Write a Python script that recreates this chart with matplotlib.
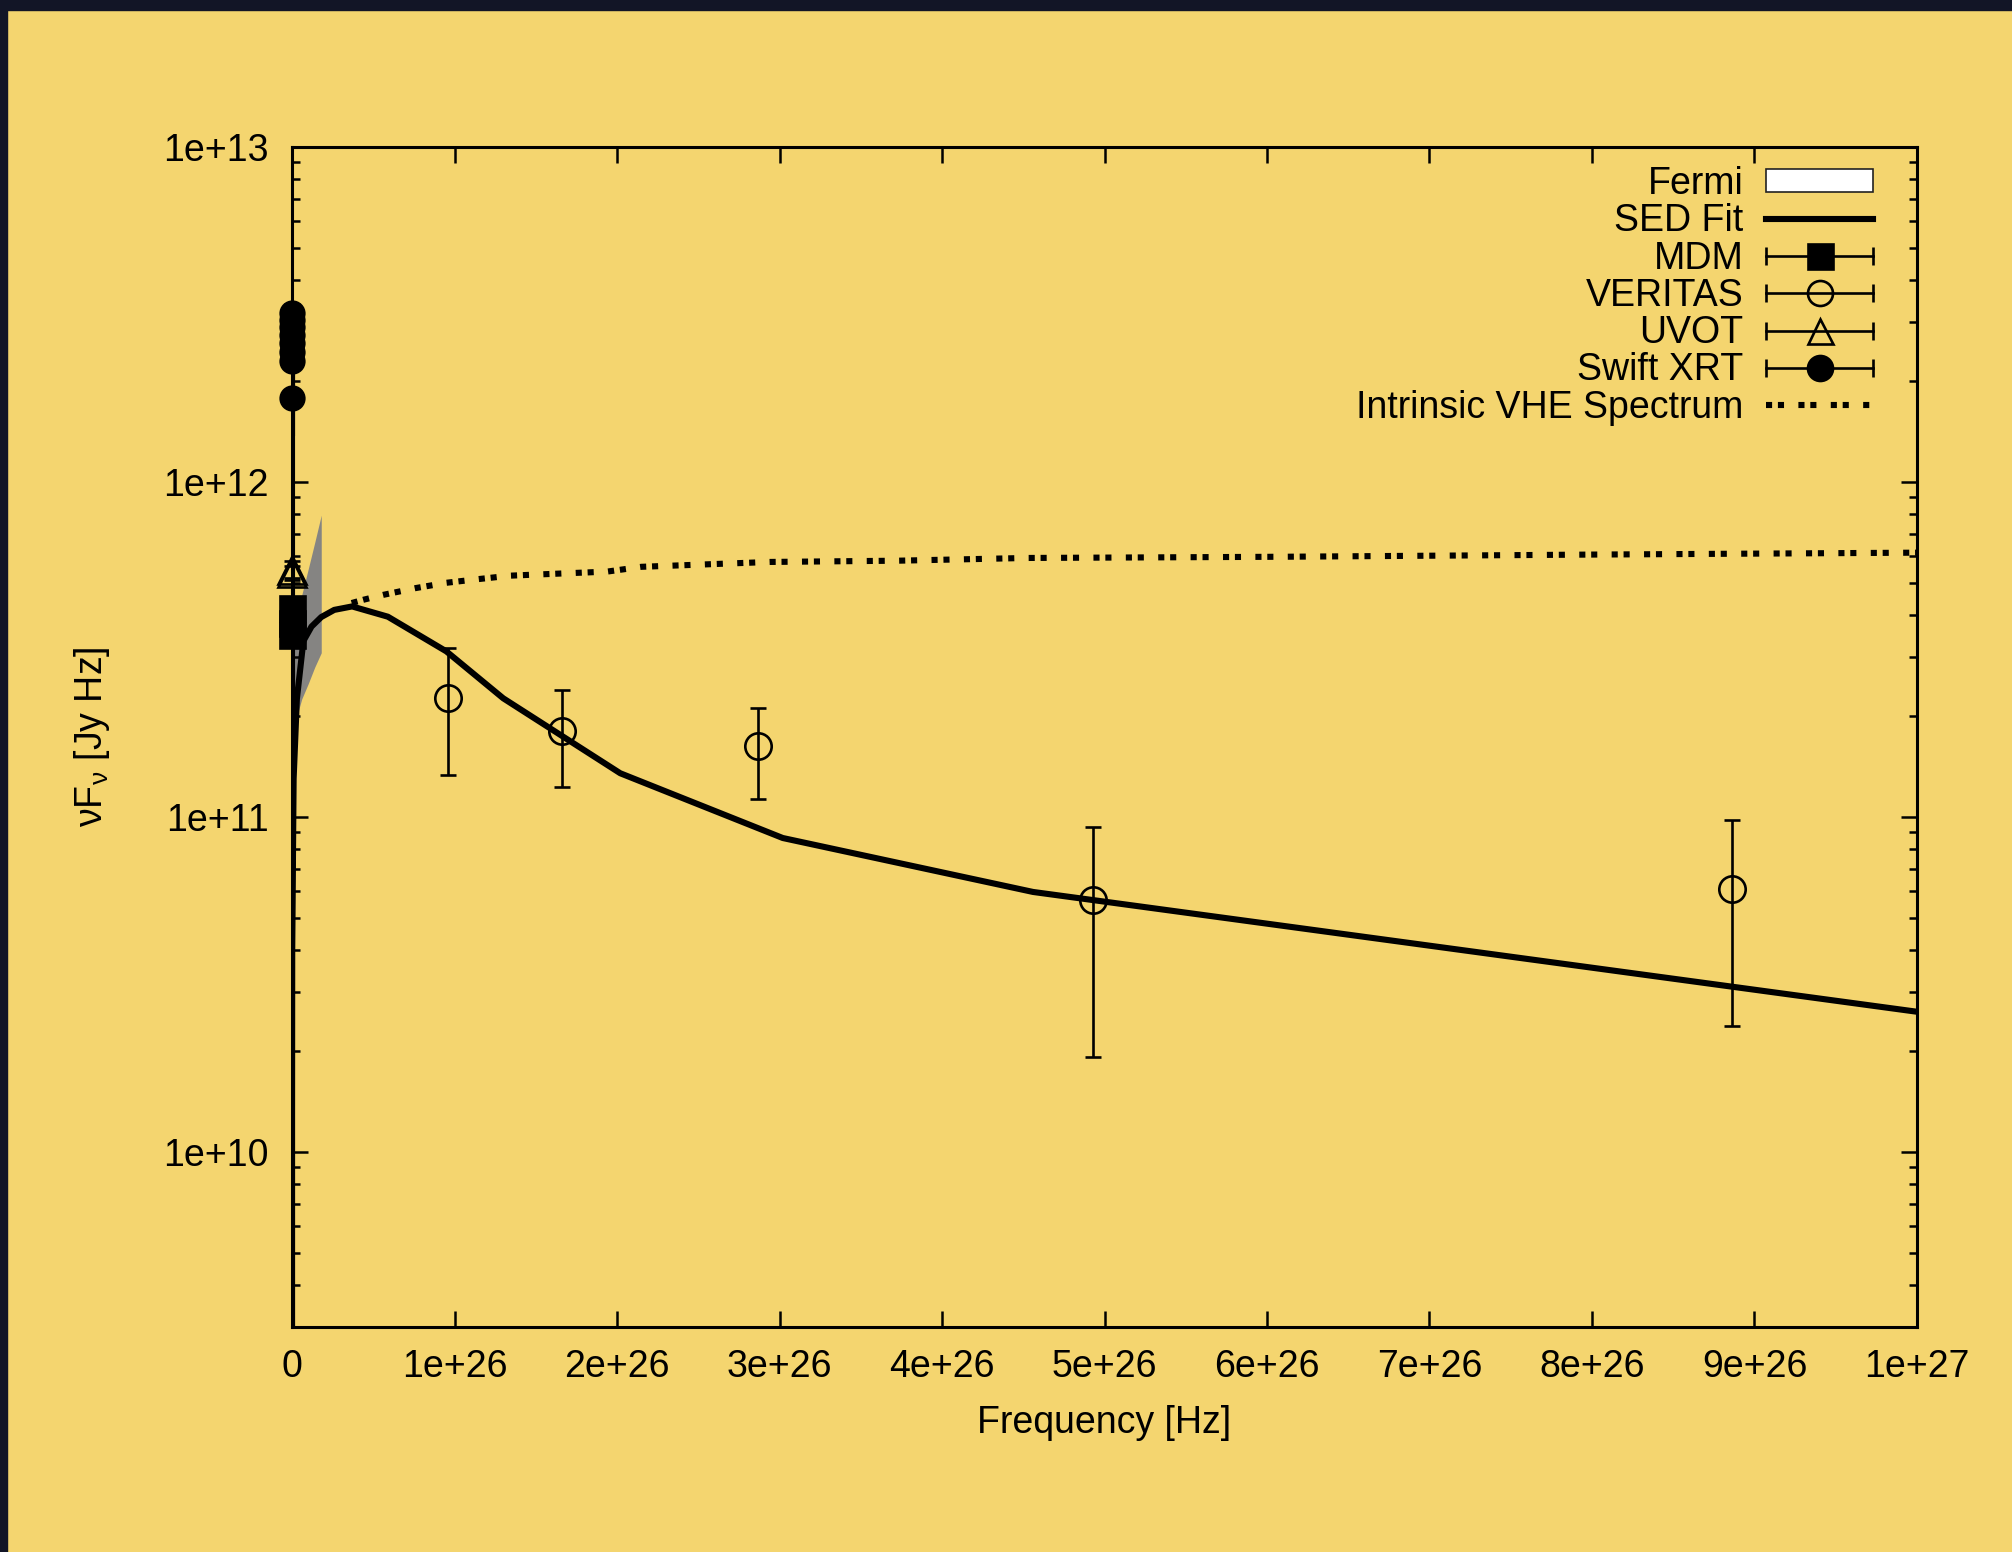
import numpy as np
import matplotlib
matplotlib.use("Agg")
import matplotlib.pyplot as plt
from matplotlib.lines import Line2D
from matplotlib.patches import Patch, Rectangle
from matplotlib.legend_handler import HandlerBase
from matplotlib.container import ErrorbarContainer
from matplotlib.ticker import LogLocator, NullFormatter

plt.rcParams['font.family'] = ['Liberation Sans', 'DejaVu Sans']
plt.rcParams['mathtext.fontset'] = 'custom'
plt.rcParams['mathtext.rm'] = 'Liberation Sans'
plt.rcParams['mathtext.it'] = 'Liberation Sans'
plt.rcParams['mathtext.bf'] = 'Liberation Sans:bold'

# ---- data ----
sed_freq = [1e14, 1e15, 1e16, 1e17, 1e18, 1e19, 1e20, 1e21, 1e22, 1e23, 1e24,
            3e24, 7e24, 1.2e25, 1.8e25, 2.6e25, 3.7e25, 5.9e25, 9.5e25,
            1.3e26, 2.02e26, 3.02e26, 4.56e26, 1e27]
sed_flux = [1.4e12, 2.6e12, 3.0e12, 2.3e12, 1.2e12, 2.5e11, 3.0e10, 2.0e9, 1.3e10, 4.0e10, 1.3e11,
            2.25e11, 3.35e11, 3.7e11, 3.95e11, 4.15e11, 4.25e11, 3.96e11, 3.12e11,
            2.26e11, 1.35e11, 8.65e10, 5.97e10, 2.62e10]

vhe_freq = [3.67e25, 4.4e25, 5.6e25, 7.6e25, 9.5e25, 1.15e26, 1.34e26, 1.54e26,
            1.94e26, 2.15e26, 2.94e26, 3.73e26, 4.52e26, 6.1e26, 8.0e26, 1e27]
vhe_flux = [4.35e11, 4.45e11, 4.6e11, 4.82e11, 5.0e11, 5.13e11, 5.25e11, 5.3e11,
            5.4e11, 5.58e11, 5.77e11, 5.82e11, 5.93e11, 5.98e11, 6.07e11, 6.15e11]

fermi_freq = [2.4e22, 1e24, 3e24, 6e24, 1e25, 1.4e25, 1.8e25]
fermi_lo = [1.5e11, 1.8e11, 2.0e11, 2.25e11, 2.5e11, 2.8e11, 3.09e11]
fermi_hi = [2.6e11, 3.3e11, 3.9e11, 4.6e11, 5.5e11, 6.6e11, 7.96e11]

ver_freq = [9.62e25, 1.66e26, 2.87e26, 4.93e26, 8.86e26]
ver_flux = [2.27e11, 1.81e11, 1.63e11, 5.65e10, 6.10e10]
ver_lo = [1.33e11, 1.23e11, 1.13e11, 1.92e10, 2.37e10]
ver_hi = [3.20e11, 2.39e11, 2.12e11, 9.31e10, 9.8e10]

mdm_freq = [4.6e14, 5.5e14, 6.8e14]
mdm_flux = [4.2e11, 3.8e11, 3.5e11]
mdm_lo = [4.0e11, 3.63e11, 3.35e11]
mdm_hi = [4.4e11, 3.97e11, 3.65e11]

uvot_freq = [1.15e15, 1.5e15]
uvot_flux = [5.45e11, 5.35e11]
uvot_lo = [5.15e11, 5.1e11]
uvot_hi = [5.8e11, 5.6e11]

xrt_freq = [2.4e17, 3.0e17, 3.9e17, 5.0e17, 6.5e17, 8.5e17, 1.1e18, 1.5e18]
xrt_flux = [3.2e12, 3.05e12, 2.9e12, 2.75e12, 2.6e12, 2.45e12, 2.3e12, 1.78e12]
xrt_lo = [3.0e12, 2.88e12, 2.75e12, 2.6e12, 2.47e12, 2.33e12, 2.17e12, 1.68e12]
xrt_hi = [3.4e12, 3.22e12, 3.05e12, 2.9e12, 2.73e12, 2.57e12, 2.43e12, 1.88e12]

xtick_vals = [0, 1e26, 2e26, 3e26, 4e26, 5e26, 6e26, 7e26, 8e26, 9e26, 1e27]
xtick_labels = ['0', '1e+26', '2e+26', '3e+26', '4e+26', '5e+26', '6e+26',
                '7e+26', '8e+26', '9e+26', '1e+27']
ytick_vals = [1e10, 1e11, 1e12, 1e13]
ytick_labels = ['1e+10', '1e+11', '1e+12', '1e+13']

BG = '#F4D56F'
FS = 27


class HandlerGnuErr(HandlerBase):
    """gnuplot-like key entry: horizontal bar with end caps, marker in the middle"""
    def create_artists(self, legend, orig_handle, xdescent, ydescent, width,
                       height, fontsize, trans):
        src = orig_handle.lines[0]
        y = (height - ydescent) / 2.
        x0, x1 = -xdescent, width - xdescent
        bar = Line2D([x0, x1], [y, y], color='black', lw=1.9)
        caps = Line2D([x0, x1], [y, y], ls='none', marker='|', markersize=13,
                      mew=1.9, color='black')
        mk = Line2D([(x0 + x1) / 2.], [y], ls='none', marker=src.get_marker(),
                    markersize=18,
                    mfc=src.get_markerfacecolor(), mec='black',
                    mew=src.get_markeredgewidth())
        for a in (bar, caps, mk):
            a.set_transform(trans)
        return [bar, caps, mk]


def errbar(ax, x, y, lo, hi, marker, filled, ms, label):
    y = np.array(y)
    yerr = [y - np.array(lo), np.array(hi) - y]
    c = ax.errorbar(x, y, yerr=yerr, fmt=marker, ms=ms,
                    mfc='black' if filled else 'none', mec='black', mew=1.9,
                    ecolor='black', elinewidth=1.9, capsize=6, capthick=1.9,
                    label=label, zorder=5, clip_on=False)
    return c


fig = plt.figure(figsize=(20.12, 15.52), dpi=100)
fig.patch.set_facecolor(BG)
fig.add_artist(Rectangle((0, 1 - 10 / 1552), 1, 10 / 1552, transform=fig.transFigure,
                         color='#121526', zorder=0))
fig.add_artist(Rectangle((0, 0), 7 / 2012, 1, transform=fig.transFigure,
                         color='#121526', zorder=0))

ax = fig.add_axes([292 / 2012, 225 / 1552, 1625 / 2012, 1180 / 1552])
ax.set_facecolor('none')

ax.fill_between(fermi_freq, fermi_lo, fermi_hi, color='#858482', lw=0, zorder=1)
fermi_handle = Patch(facecolor='white', edgecolor='#222222', linewidth=1.2)

sed_line, = ax.plot(sed_freq, sed_flux, color='black', lw=4.4, zorder=3,
                    solid_joinstyle='round', label='SED Fit')
vhe_line, = ax.plot(vhe_freq, vhe_flux, color='black', lw=4.4, zorder=3,
                    dash_capstyle='butt', label='Intrinsic VHE Spectrum')
vhe_line.set_dashes([1, 0.95, 1, 2.35])

mdm = errbar(ax, mdm_freq, mdm_flux, mdm_lo, mdm_hi, 's', True, 18, 'MDM')
ver = errbar(ax, ver_freq, ver_flux, ver_lo, ver_hi, 'o', False, 19, 'VERITAS')
uvot = errbar(ax, uvot_freq, uvot_flux, uvot_lo, uvot_hi, '^', False, 20, 'UVOT')
xrt = errbar(ax, xrt_freq, xrt_flux, xrt_lo, xrt_hi, 'o', True, 17, 'Swift XRT')
for a in ver.lines[0:1] + ver.lines[1] + ver.lines[2]:
    a.set_clip_on(True)

ax.set_yscale('log')
ax.set_xlim(0, 1e27)
ax.set_ylim(3.0e9, 1e13)
ax.set_xticks(xtick_vals, xtick_labels)
ax.set_yticks(ytick_vals, ytick_labels)
ax.yaxis.set_minor_locator(LogLocator(base=10, subs=np.arange(2, 10), numticks=50))
ax.yaxis.set_minor_formatter(NullFormatter())

ax.tick_params(which='both', direction='in', top=True, right=True, width=1.8,
               color='black', labelsize=FS)
ax.tick_params(which='major', length=11.5)
ax.tick_params(axis='x', which='major', pad=16)
ax.tick_params(axis='y', which='major', pad=17)
ax.tick_params(which='minor', length=5.5)
for s in ax.spines.values():
    s.set_linewidth(2.2)
    s.set_zorder(4)

ax.set_xlabel('Frequency [Hz]', fontsize=FS, va='center')
ax.xaxis.set_label_coords(0.5, -0.081)
ax.set_ylabel(r'$\nu$F$_{\nu}$ [Jy Hz]', fontsize=FS, va='center')
ax.yaxis.set_label_coords(-0.123, 0.5)

handles = [fermi_handle, sed_line, mdm, ver, uvot, xrt, vhe_line]
labels = ['Fermi', 'SED Fit', 'MDM', 'VERITAS', 'UVOT', 'Swift XRT',
          'Intrinsic VHE Spectrum']
leg = ax.legend(handles, labels, loc='upper right', bbox_to_anchor=(0.973, 0.984),
                frameon=False, markerfirst=False, fontsize=FS, borderpad=0,
                borderaxespad=0, handlelength=2.85, handleheight=0.59,
                handletextpad=0.61, labelspacing=0.035,
                handler_map={ErrorbarContainer: HandlerGnuErr()})
leg.set_zorder(6)

fig.savefig('out.png', dpi=100, facecolor=fig.get_facecolor())
